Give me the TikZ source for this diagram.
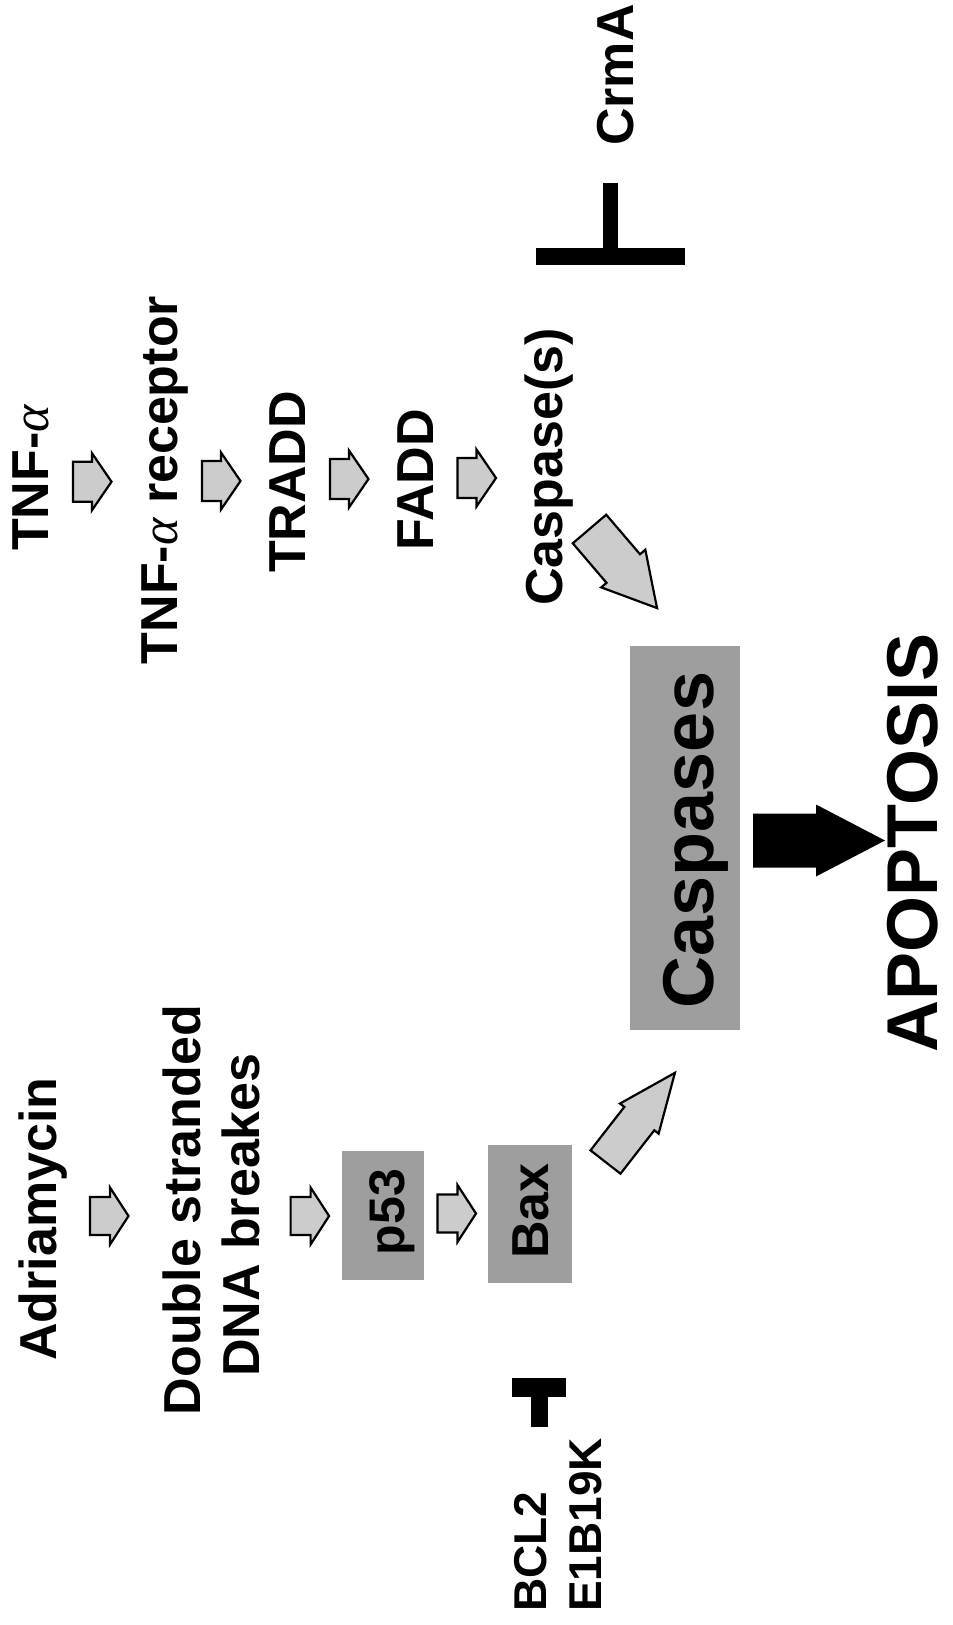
\documentclass[tikz,border=0pt]{standalone}
\usepackage{fontspec}
\setmainfont{Liberation Sans}
\newfontfamily\greekfont{Liberation Serif}
\definecolor{boxgray}{gray}{0.62}
\definecolor{arrowgray}{gray}{0.80}
\newcommand{\alf}{{\greekfont\mdseries\itshape α}}
\tikzset{
  lbl/.style={rotate=90, anchor=base, inner sep=0pt, font=\fontsize{52}{52}\selectfont\bfseries},
  lblbig/.style={lbl, font=\fontsize{72}{72}\selectfont\bfseries},
  lblsmall/.style={lbl, anchor=base west, font=\fontsize{46}{46}\selectfont\bfseries},
  boxst/.style={draw=none, fill=boxgray, inner sep=0pt, rectangle},
  sarrow/.style={draw=black, line width=2.2pt, fill=arrowgray, line join=miter},
  karrowst/.style={draw=none, fill=black},
  barst/.style={fill=black},
  pics/garrow/.style n args={4}{code={
    \path[sarrow] (0,-#2) -- (#3,-#2) -- (#3,-#4) -- (#1,0) -- (#3,#4) -- (#3,#2) -- (0,#2) -- cycle;}},
  pics/karrow/.style n args={4}{code={
    \path[karrowst] (0,-#2) -- (#3,-#2) -- (#3,-#4) -- (#1,0) -- (#3,#4) -- (#3,#2) -- (0,#2) -- cycle;}}
}
\begin{document}
\begin{tikzpicture}[x=1pt,y=-1pt]
\useasboundingbox[fill=white] (0,0) rectangle (953,1625);

% TNF pathway
\node[lbl] (tnf)   at (48,478)  {TNF-\alf};
\node[lbl] (tnfr)  at (177,480) {TNF-\alf\ receptor};
\node[lbl] (tradd) at (305,482) {TRADD};
\node[lbl] (fadd)  at (433,480) {FADD};
\node[lbl] (casps) at (562,467) {Caspase(s)};
\node[lbl] (crma)  at (633,75)  {CrmA};

\pic at (73,481.7)  {garrow={38.5}{20}{19}{28.5}};
\pic at (202,481)   {garrow={38.5}{20}{19}{28.5}};
\pic at (330,479)   {garrow={38.5}{20}{19}{28.5}};
\pic at (457.5,478) {garrow={38.5}{20}{19}{28.5}};

% CrmA inhibition bar
\fill[barst] (603,183) rectangle (618,250);
\fill[barst] (536,248) rectangle (685,265);

% Adriamycin pathway
\node[lbl] (adria) at (56,1219)  {Adriamycin};
\node[lbl] (dsb1)  at (200,1210) {Double stranded};
\node[lbl] (dsb2)  at (259,1215) {DNA breakes};
\node[boxst, minimum width=82, minimum height=129] (p53box) at (383,1215.5) {};
\node[lbl, font=\fontsize{50}{50}\selectfont\bfseries] (p53) at (404,1212) {p53};
\node[boxst, minimum width=84, minimum height=138] (baxbox) at (530,1214) {};
\node[lbl] (bax) at (548,1211) {Bax};

\pic at (90,1216)    {garrow={38.5}{19}{20}{28.5}};
\pic at (290.6,1216) {garrow={38.5}{19}{20}{28.5}};
\pic at (437.5,1213.5) {garrow={38.5}{19}{20}{28.5}};

% BCL2 inhibition bar
\fill[barst] (512,1378) rectangle (566,1397);
\fill[barst] (531,1396) rectangle (548,1427);
\node[lblsmall] (bcl2) at (546,1612) {BCL2};
\node[lblsmall] (e1b)  at (601,1612) {E1B19K};

% Caspases and apoptosis
\node[boxst, minimum width=110, minimum height=384] (casbox) at (685,838) {};
\node[lblbig] (cas)  at (713,840) {Caspases};
\node[lblbig] (apop) at (937,843) {APOPTOSIS};

\pic[rotate=-49.5] at (589.5,529) {garrow={104}{22}{52}{29}};
\pic[rotate=52.1] at (605.5,1162) {garrow={113}{19}{55}{24.5}};
\pic at (753,840.5) {karrow={132}{27}{63}{36}};
\end{tikzpicture}
\end{document}
